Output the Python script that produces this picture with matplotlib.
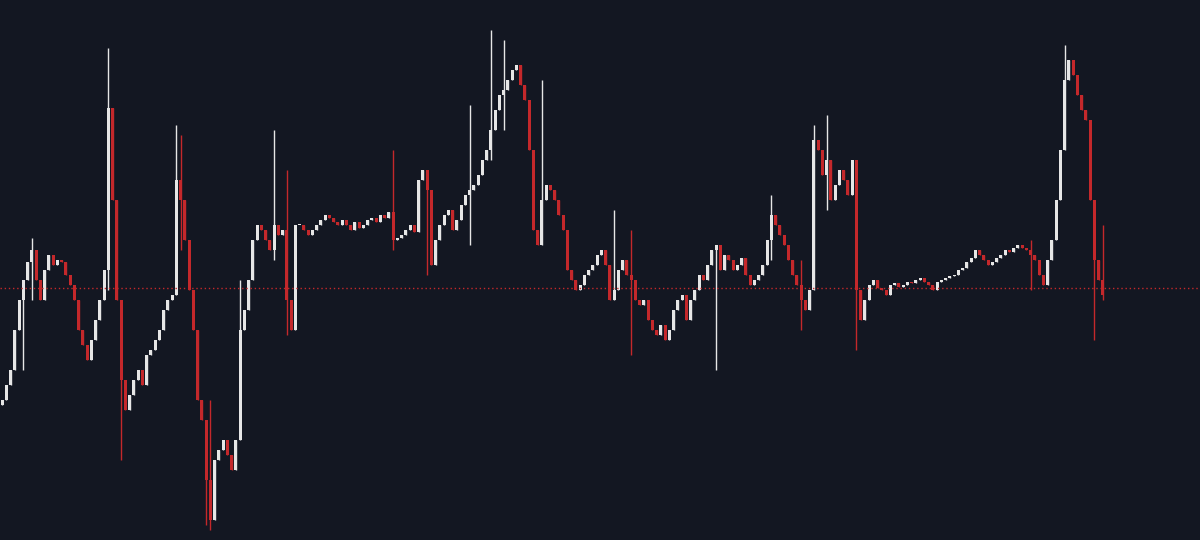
import matplotlib
matplotlib.use("Agg")
import matplotlib.pyplot as plt

# close positions (screen-y, converted to price = 540 - y)
close_y = [
400,385,370,330,300,280,262,250,280,300,
270,255,265,260,262,275,285,300,330,345,
360,340,320,300,270,108,200,300,380,410,
395,380,370,385,355,350,340,330,310,300,
295,180,200,240,290,330,400,420,480,520,
460,450,440,455,470,440,330,310,280,240,
225,230,240,250,225,235,230,300,330,225,
225,230,235,230,225,220,215,218,222,225,
220,225,230,222,228,225,220,218,222,215,
218,212,240,238,235,230,225,232,180,170,
190,265,240,225,215,210,230,220,205,195,
190,185,175,160,150,130,110,95,90,80,
70,65,85,100,150,230,245,200,185,190,
200,215,230,270,280,290,285,275,270,265,
255,250,265,300,290,270,260,275,280,300,
305,300,320,330,335,325,340,330,310,300,
295,320,300,290,275,280,265,250,245,270,
255,260,270,265,258,275,285,280,275,265,
240,215,225,235,245,260,275,285,300,310,
290,140,150,175,160,200,185,170,180,195,
160,290,320,300,285,280,288,290,295,285,
283,287,285,282,283,280,278,282,285,290,
282,280,278,276,275,270,268,262,258,250,
255,260,265,262,258,255,250,252,248,245,
248,250,255,260,275,285,260,240,200,150,
80,60,75,95,110,120,200,260,280,295,
]
first_open_y = 405
# notable wicks: index -> (high screen-y, low screen-y)
wick_y = {
5:(280,370), 7:(238,300), 25:(48,290), 28:(370,460), 41:(125,290),
42:(135,250), 48:(420,525), 49:(400,530), 56:(280,350), 64:(130,260),
67:(170,335), 92:(150,250), 100:(180,275), 110:(105,245), 115:(30,160),
118:(40,130), 127:(80,180), 144:(210,300), 148:(230,355), 168:(250,370),
181:(195,260), 188:(260,330), 191:(125,290), 194:(115,210), 201:(290,350),
242:(240,290), 250:(45,110), 257:(225,340), 259:(225,300),
}
ref_y = 288

price = lambda y: 540 - y
closes = [price(v) for v in close_y]
opens = [price(first_open_y)] + closes[:-1]

bg = "#131722"
up_c = "#e6e6e6"
dn_c = "#c4282b"
step = 4.25

fig = plt.figure(figsize=(12, 5.4), dpi=100, facecolor=bg)
ax = fig.add_axes([0, 0, 1, 1])
ax.set_facecolor(bg)
for i, (o, c) in enumerate(zip(opens, closes)):
    x = i * step + 2
    col = up_c if c >= o else dn_c
    hi, lo = max(o, c), min(o, c)
    if i in wick_y:
        hy, ly = wick_y[i]
        hi = max(hi, price(hy)); lo = min(lo, price(ly))
    ax.vlines(x, lo, hi, color=col, lw=1)
    ax.bar(x, max(abs(c - o), 1), bottom=min(o, c), width=3, color=col, linewidth=0)
ax.axhline(price(ref_y), color=dn_c, lw=1, ls=(0, (1, 2)))
ax.set_xlim(0, 1200)
ax.set_ylim(0, 540)
ax.axis("off")
fig.savefig("out.png", dpi=100, facecolor=bg)
